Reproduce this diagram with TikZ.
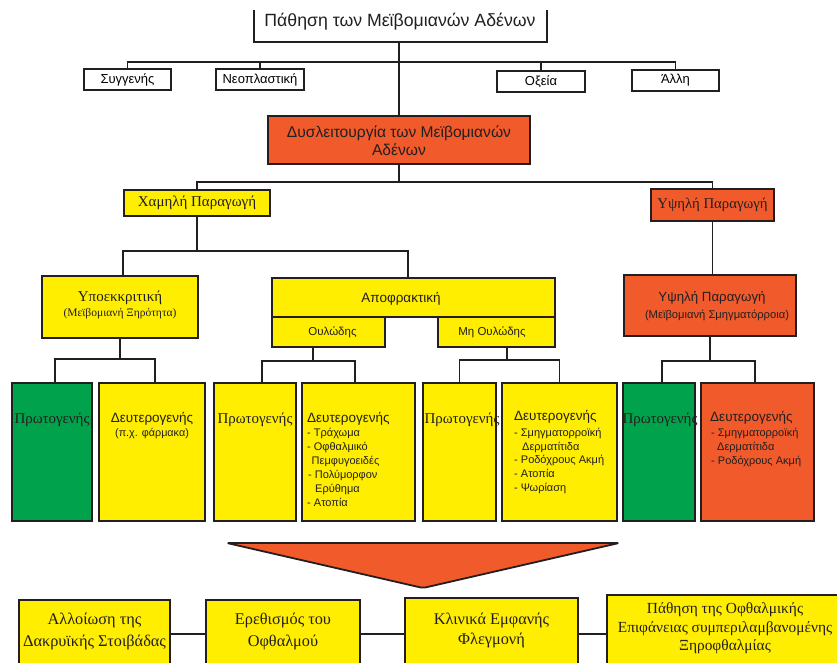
\documentclass[tikz,border=0pt]{standalone}
\usepackage{fontspec}
\setmainfont{Liberation Serif}
\setsansfont{Liberation Sans}
\usetikzlibrary{calc}
\definecolor{ylw}{HTML}{FFEE00}
\definecolor{org}{HTML}{F15A2B}
\definecolor{grn}{HTML}{00A24C}
\definecolor{ink}{HTML}{231F20}
\begin{document}
\begin{tikzpicture}[x=1pt,y=-1pt,
  box/.style={draw=ink,line width=2.6pt,inner sep=0pt},
  sbox/.style={draw=ink,line width=1.6pt,fill=white,inner sep=0pt,font=\sffamily\fontsize{13}{15}\selectfont},
  conn/.style={draw=ink,line width=1.4pt},
  bconn/.style={draw=ink,line width=2.8pt},
  txt/.style={inner sep=0pt,text=ink},
  serifA/.style={txt,font=\fontsize{15}{18}\selectfont},
  sansH/.style={txt,font=\sffamily\fontsize{13.5}{16}\selectfont},
  listA/.style={txt,align=left,anchor=north west,font=\sffamily\fontsize{11}{14}\selectfont},
  bottomtxt/.style={txt,align=center,font=\fontsize{16.3}{22}\selectfont}
]
\useasboundingbox (0,0) rectangle (837,663);
\clip (0,0) rectangle (837,663);

% ---- title
\node[draw=none,fill=white,minimum width=293pt,minimum height=32pt,inner sep=0pt] (title) at (400.5,26) {};
\draw[ink,line width=2pt] (title.north west) -- (title.south west) -- (title.south east) -- (title.north east);
\node[txt,font=\sffamily\fontsize{17.7}{20}\selectfont] (titletxt) at (400,22) {Πάθηση των Μεϊβομιανών Αδένων};

% ---- first row
\node[sbox,minimum width=87pt,minimum height=21pt] (syg) at (127.5,79.5) {Συγγενής};
\node[sbox,minimum width=88pt,minimum height=21pt] (neo) at (260,79.5) {Νεοπλαστική};
\node[sbox,minimum width=88pt,minimum height=21pt] (oxe) at (541,81.5) {Οξεία};
\node[sbox,minimum width=87pt,minimum height=21pt] (alli) at (675.5,80.5) {Άλλη};

% ---- dysfunction
\node[box,fill=org,minimum width=262pt,minimum height=48pt] (dys) at (399,140) {};
\node[txt,align=center,font=\sffamily\fontsize{15.6}{18}\selectfont] (dystxt) at (399,141) {Δυσλειτουργία των Μεϊβομιανών\\Αδένων};

\coordinate (bus1) at (0,62);
\draw[conn] (syg.north) |- (alli.north |- bus1) -- (alli.north);
\draw[conn] (neo.north) -- (neo.north |- bus1);
\draw[conn] (oxe.north) -- (oxe.north |- bus1);
\draw[conn] (title.south -| dys.north) -- (dys.north);

% ---- low / high
\node[box,fill=ylw,minimum width=146pt,minimum height=26pt,text=ink,font=\fontsize{15}{18}\selectfont] (low) at (197,203) {Χαμηλή Παραγωγή};
\node[box,fill=org,minimum width=123pt,minimum height=32pt,text=ink,font=\fontsize{14.8}{18}\selectfont] (high) at (712.5,205) {Υψηλή Παραγωγή};

\coordinate (bus2) at (0,182);
\draw[conn] (dys.south) -- (dys.south |- bus2);
\draw[conn] (low.north) |- (high.north |- bus2) -- (high.north);

% ---- third level
\node[box,fill=ylw,minimum width=156pt,minimum height=62pt] (hypo) at (120,307) {};
\node[txt,font=\fontsize{15}{17}\selectfont] (hypot) at (120,298) {Υποεκκριτική};
\node[txt,font=\fontsize{11.5}{13}\selectfont] (hypos) at (120,314) {(Μεϊβομιανή Ξηρότητα)};

\node[box,fill=ylw,minimum width=283pt,minimum height=39pt] (apo) at (413.5,297.5) {};
\node[txt,font=\sffamily\fontsize{13.5}{15}\selectfont] (apot) at (401,299) {Αποφρακτική};
\node[box,fill=ylw,minimum width=113pt,minimum height=30pt] (oul) at (328.5,332) {};
\node[txt,font=\sffamily\fontsize{11.5}{14}\selectfont] (oult) at (332.5,332) {Ουλώδης};
\node[box,fill=ylw,minimum width=117pt,minimum height=30pt] (mhoul) at (496.5,332) {};
\node[txt,font=\sffamily\fontsize{11.5}{14}\selectfont] (mhoult) at (492,332) {Μη Ουλώδης};

\node[box,fill=org,minimum width=172pt,minimum height=61pt] (hbig) at (710,305.5) {};
\node[txt,font=\sffamily\fontsize{13.3}{16}\selectfont] (hbigt) at (712,298) {Υψηλή Παραγωγή};
\node[txt,font=\sffamily\fontsize{11.2}{13}\selectfont] (hbigs) at (717,315) {(Μεϊβομιανή Σμηγματόρροια)};

\coordinate (bus3) at (0,251);
\coordinate (a408) at ($(apo.north)+(-5.5,0)$);
\draw[conn] (low.south) -- (low.south |- bus3);
\draw[conn] ($(hypo.north)+(3,0)$) |- (bus3 -| a408) -- (a408);
\draw[conn] (high.south) -- (high.south |- hbig.north);

% ---- bottom row of categories
\node[box,fill=grn,minimum width=80pt,minimum height=138pt] (b1) at (52,452) {};
\node[box,fill=ylw,minimum width=106pt,minimum height=138pt] (b2) at (152,452) {};
\node[box,fill=ylw,minimum width=82pt,minimum height=138pt] (b3) at (255,452) {};
\node[box,fill=ylw,minimum width=113pt,minimum height=138pt] (b4) at (358.5,452) {};
\node[box,fill=ylw,minimum width=73pt,minimum height=138pt] (b5) at (459.5,452) {};
\node[box,fill=ylw,minimum width=115pt,minimum height=138pt] (b6) at (559.5,452) {};
\node[box,fill=grn,minimum width=72pt,minimum height=138pt] (b7) at (659,452) {};
\node[box,fill=org,minimum width=113pt,minimum height=138pt] (b8) at (757.5,452) {};

\node[serifA] (b1t) at (52,420) {Πρωτογενής};
\node[sansH] (b2t) at (152,419) {Δευτερογενής};
\node[txt,font=\sffamily\fontsize{10.8}{12}\selectfont] (b2s) at (152,434) {(π.χ. φάρμακα)};
\node[serifA] (b3t) at (255,420) {Πρωτογενής};
\node[sansH,anchor=west] (b4t) at (307,419) {Δευτερογενής};
\node[listA] (b4l) at (307,428) {-~Τράχωμα\\-~Οφθαλμικό\\\hspace*{4.5pt}Πεμφυγοειδές\\\hspace*{1pt}-~Πολύμορφον\\\hspace*{8pt}Ερύθημα\\-~Ατοπία};
\node[serifA] (b5t) at (462,420) {Πρωτογενής};
\node[sansH,anchor=west] (b6t) at (514,417) {Δευτερογενής};
\node[listA,font=\sffamily\fontsize{11}{13.7}\selectfont] (b6l) at (514,428) {-~Σμηγματορροϊκή\\\hspace*{8pt}Δερματίτιδα\\-~Ροδόχρους Ακμή\\-~Ατοπία\\-~Ψωρίαση};
\node[serifA] (b7t) at (660,420) {Πρωτογενής};
\node[sansH,anchor=west] (b8t) at (710,418) {Δευτερογενής};
\node[listA] (b8l) at (711,428) {-~Σμηγματορροϊκή\\\hspace*{6pt}Δερματίτιδα\\-~Ροδόχρους Ακμή};

\coordinate (bus4) at (0,359);
\draw[conn] (hypo.south) -- (hypo.south |- bus4);
\draw[conn] ($(b1.north)+(3,0)$) |- ($(bus4 -| b2.north)+(3,0)$) -- ($(b2.north)+(3,0)$);

\coordinate (bus5) at (0,361);
\coordinate (o313) at ($(oul.south)+(-15.5,0)$);
\draw[conn] (o313) -- (o313 |- bus5);
\draw[conn] ($(b3.north)+(7,0)$) |- ($(bus5 -| b4.north)+(-3.5,0)$) -- ($(b4.north)+(-3.5,0)$);

\coordinate (bus6) at (0,360);
\coordinate (m507) at ($(mhoul.south)+(10.5,0)$);
\draw[conn] (m507) -- (m507 |- bus6);
\draw[conn] (b5.north) |- (bus6 -| b6.north) -- (b6.north);

\coordinate (bus7) at (0,361);
\draw[conn] (hbig.south) -- (hbig.south |- bus7);
\draw[conn] ($(b7.north)+(3,0)$) |- ($(bus7 -| b8.north)+(-2.5,0)$) -- ($(b8.north)+(-2.5,0)$);

% ---- big arrow
\coordinate (tl) at (227,543);
\coordinate (tr) at (619,543);
\coordinate (tip) at (423,588);
\draw[ink,fill=org,line width=1.8pt,rounded corners=2pt,line join=round] (tl) -- (tr) -- (tip) -- cycle;

% ---- bottom boxes
\node[box,fill=ylw,minimum width=151pt,minimum height=68pt] (B1) at (94.5,634) {};
\node[box,fill=ylw,minimum width=154pt,minimum height=68pt] (B2) at (283,634) {};
\node[box,fill=ylw,minimum width=173pt,minimum height=72pt] (B3) at (491.5,634) {};
\node[box,fill=ylw,minimum width=238pt,minimum height=78pt] (B4) at (726,634) {};

\node[bottomtxt] (B1t) at (94.5,631) {Αλλοίωση της\\Δακρυϊκής Στοιβάδας};
\node[bottomtxt] (B2t) at (283,631) {Ερεθισμός του\\Οφθαλμού};
\node[bottomtxt,font=\fontsize{16.3}{20}\selectfont] (B3t) at (491.5,630) {Κλινικά Εμφανής\\Φλεγμονή};
\node[bottomtxt,font=\fontsize{15.4}{18.5}\selectfont] (B4t) at (725,628.5) {Πάθηση της Οφθαλμικής\\Επιφάνειας συμπεριλαμβανομένης\\Ξηροφθαλμίας};

\draw[bconn] (B1.east) -- (B2.west);
\draw[bconn] (B2.east) -- (B3.west);
\draw[bconn] (B3.east) -- (B4.west);
\end{tikzpicture}
\end{document}
